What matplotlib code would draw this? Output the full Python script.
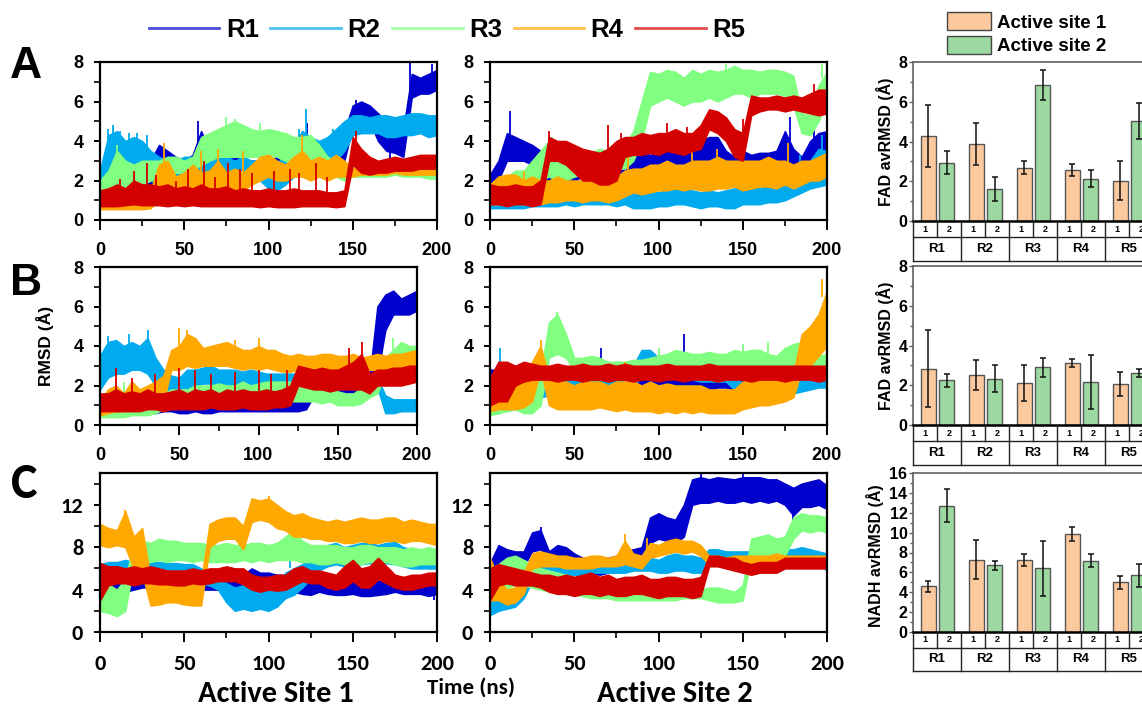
import numpy as np
import matplotlib.pyplot as plt
from matplotlib.lines import Line2D
from matplotlib.patches import Patch
from matplotlib import font_manager

plt.rcParams['font.family'] = ['Liberation Sans', 'DejaVu Sans']

# sampling times (ns) for the trajectory envelopes
t = list(range(0, 201, 5))

# ---- row A, active site 1: lower / upper envelope of each run
a1_r1_lo = [0.6,0.6,0.6,0.7,0.8,1.0,1.5,2.0,2.0,2.0,2.0,2.2,2.2,2.3,2.3,2.3,2.2,2.2,2.0,2.0,2.2,2.2,2.4,2.5,2.5,2.5,2.4,2.4,2.5,3.0,4.8,5.0,5.0,4.0,3.5,3.4,3.2,6.2,6.4,6.4,6.6]
a1_r1_hi = [1.2,1.5,1.8,2.0,2.2,2.6,3.0,3.8,3.5,3.2,3.0,3.3,4.5,3.5,3.3,3.2,3.2,3.0,3.0,3.0,3.0,3.2,3.4,3.5,4.5,3.8,3.5,3.8,4.0,4.5,5.8,6.0,5.8,5.4,5.0,5.0,4.6,7.4,7.2,7.4,7.6]
a1_r2_lo = [1.0,1.5,2.0,2.2,2.2,2.2,2.0,1.8,1.8,1.8,1.8,2.0,2.0,2.2,2.2,2.0,2.0,2.0,2.0,2.0,1.6,1.5,1.8,2.2,2.5,2.5,2.8,2.8,3.0,3.5,4.3,4.4,4.4,4.4,4.2,4.2,4.3,4.3,4.4,4.2,4.3]
a1_r2_hi = [2.5,4.3,4.5,4.0,4.2,4.0,3.5,3.2,3.0,3.0,3.2,3.2,3.3,3.3,3.2,3.2,3.0,3.2,3.0,3.0,2.8,2.8,3.5,3.8,4.5,4.2,4.0,4.2,4.6,5.0,5.3,5.3,5.2,5.3,5.3,5.2,5.3,5.4,5.4,5.3,5.3]
a1_r3_lo = [0.8,1.2,1.4,1.3,1.5,1.8,2.0,2.2,2.2,2.4,2.4,2.5,2.8,3.0,3.2,3.2,3.2,3.2,3.2,3.2,3.3,3.2,3.0,2.8,3.0,2.8,2.6,2.2,2.2,2.0,2.2,2.2,2.2,2.2,2.2,2.3,2.2,2.2,2.2,2.1,2.1]
a1_r3_hi = [2.0,2.5,3.5,3.0,2.8,3.0,3.0,3.0,3.2,3.2,3.0,3.2,4.2,4.4,4.6,4.8,5.0,4.8,4.6,4.5,4.6,4.5,4.4,4.2,4.2,4.3,3.8,3.2,3.0,2.8,2.7,2.6,2.5,2.5,2.5,2.5,2.5,2.5,2.5,2.4,2.4]
a1_r4_lo = [0.55,0.55,0.55,0.55,0.55,0.55,0.6,1.0,1.2,1.2,1.2,1.3,1.2,1.3,1.4,1.3,1.4,1.5,1.8,2.0,2.2,2.0,2.0,2.2,2.2,2.0,2.2,2.0,2.2,2.2,2.2,2.3,2.3,2.3,2.3,2.4,2.3,2.3,2.3,2.3,2.3]
a1_r4_hi = [0.9,1.0,1.0,1.0,1.0,1.2,1.5,2.8,3.0,2.2,2.4,2.8,2.4,2.5,3.0,2.4,2.6,2.4,2.8,3.2,3.3,3.0,2.8,3.2,3.5,3.0,3.2,3.0,3.3,3.0,2.6,2.7,2.6,2.6,2.6,2.6,2.6,2.6,2.6,2.6,2.6]
a1_r5_lo = [0.7,0.7,0.7,0.75,0.8,0.75,0.75,0.75,0.7,0.75,0.7,0.75,0.7,0.7,0.7,0.7,0.7,0.7,0.7,0.65,0.7,0.65,0.65,0.65,0.7,0.7,0.7,0.7,0.65,0.7,2.8,2.4,2.3,2.4,2.4,2.5,2.5,2.5,2.6,2.6,2.6]
a1_r5_hi = [1.5,1.6,1.8,1.6,2.0,1.8,1.8,1.7,1.8,1.6,1.7,1.6,1.8,1.6,1.6,1.7,1.5,1.6,1.5,1.5,1.6,1.5,1.5,1.6,1.5,1.5,1.5,1.4,1.4,1.5,4.2,3.6,3.2,3.0,3.1,3.2,3.1,3.2,3.3,3.3,3.3]
# short excursions: (run index, time, low, high)
a1_spikes = [(1,5,3.0,4.6),(1,8,3.0,4.8),(1,12,3.0,4.5),(1,17,3.0,4.4),(1,22,3.0,4.4),(1,28,2.8,4.3),
             (1,118,3.5,4.6),(1,122,3.5,5.6),(1,138,3.5,4.6),
             (0,58,3.0,5.0),(0,123,3.5,4.9),(0,152,5.5,6.1),(0,172,3.0,4.0),(0,184,6.5,8.0),(0,197,6.8,7.9),
             (2,10,2.5,3.8),(2,75,4.5,5.2),(2,80,4.5,5.1),(2,95,4.3,4.9),
             (3,38,2.5,3.9),(3,60,2.2,3.5),(3,70,2.5,3.6),(3,85,2.2,3.5),(3,120,3.0,4.3),
             (4,12,1.4,2.1),(4,20,1.5,2.5),(4,28,1.5,2.9),(4,33,1.5,2.3),(4,45,1.4,2.0),(4,52,1.5,2.6),
             (4,62,1.5,3.0),(4,68,1.5,2.2),(4,76,1.5,2.9),(4,83,1.4,2.6),(4,90,1.4,2.4),(4,103,1.4,2.5),
             (4,113,1.4,2.6),(4,118,1.4,2.4),(4,128,1.4,2.9),(4,135,1.3,2.2),(4,152,3.5,4.5)]

# ---- row A, active site 2
a2_r1_lo = [1.4,2.0,3.0,3.0,3.0,2.8,2.4,1.5,1.5,1.8,2.0,2.2,2.0,2.2,2.2,2.2,2.2,2.3,2.4,2.4,2.5,2.5,2.5,2.3,2.4,2.5,2.6,2.5,2.3,2.2,2.5,2.4,2.4,2.5,2.4,2.6,2.5,2.3,2.8,2.8,3.0]
a2_r1_hi = [2.3,3.0,4.4,4.2,4.0,3.8,3.5,2.5,2.5,2.8,3.0,3.2,3.2,3.4,3.5,3.2,3.2,3.2,3.4,3.3,3.4,3.6,3.8,3.4,3.5,4.0,4.2,4.2,3.5,3.2,3.5,3.3,3.4,3.4,3.5,4.5,3.6,3.2,4.0,4.4,4.5]
a2_r2_lo = [0.6,0.6,0.6,0.6,0.6,0.7,0.7,0.7,0.7,0.8,0.7,0.8,0.8,0.8,0.8,0.7,0.8,0.6,0.6,0.6,0.7,0.7,0.8,0.8,0.7,0.6,0.7,0.7,0.6,0.6,0.8,0.8,0.8,0.9,0.9,1.0,1.2,1.4,1.6,1.7,1.8]
a2_r2_hi = [1.2,1.0,1.1,1.0,1.0,1.2,1.3,1.4,1.5,1.6,1.5,1.6,1.7,1.8,1.6,1.6,1.8,1.5,1.6,1.5,1.4,1.6,1.7,1.8,1.5,1.4,1.5,1.4,1.5,1.6,1.8,1.7,1.6,1.8,1.8,2.0,2.2,2.4,3.0,3.6,3.5]
a2_r3_lo = [1.0,1.0,1.2,1.5,1.5,1.5,2.0,2.2,2.0,2.0,2.2,2.3,2.3,2.2,2.4,2.6,2.6,3.0,4.0,5.8,6.0,6.2,6.0,5.8,6.0,6.0,6.2,6.0,6.2,6.4,6.4,6.2,6.4,6.4,6.4,6.3,5.8,4.4,4.3,5.0,6.0]
a2_r3_hi = [1.8,2.0,2.2,2.5,2.5,3.0,3.5,4.0,3.5,3.2,3.2,3.5,3.4,3.6,3.5,3.8,3.8,4.5,6.0,7.5,7.4,7.6,7.5,7.2,7.6,7.4,7.6,7.5,7.6,7.8,7.6,7.6,7.5,7.6,7.6,7.5,7.3,5.4,5.3,6.8,7.5]
a2_r4_lo = [0.8,0.8,0.8,1.0,0.8,0.8,0.8,0.9,0.9,1.0,1.0,0.9,1.0,1.0,0.9,1.0,1.2,1.4,1.3,1.4,1.5,1.5,1.6,1.5,1.6,1.5,1.5,1.6,1.6,1.7,1.5,1.6,1.7,1.7,1.6,1.8,1.6,1.8,2.0,2.0,2.2]
a2_r4_hi = [1.8,2.2,2.3,2.3,2.0,2.2,2.0,2.0,2.2,2.0,2.0,2.0,2.2,2.0,2.0,2.2,2.5,2.6,2.6,2.8,2.8,3.0,2.8,2.8,3.0,3.0,3.0,3.2,3.0,3.0,3.0,3.0,3.0,3.2,3.0,3.0,2.8,3.0,3.0,3.2,3.4]
a2_r5_lo = [0.8,0.8,0.7,0.8,0.8,0.7,0.8,3.0,3.0,2.8,2.4,2.0,2.0,1.8,1.8,2.0,3.2,3.3,3.3,3.4,3.3,3.5,3.4,3.3,3.5,3.6,4.6,4.4,4.0,3.2,3.0,5.3,5.5,5.6,5.6,5.5,5.6,5.5,5.4,5.3,5.4]
a2_r5_hi = [1.8,1.7,1.7,1.8,1.7,1.7,2.0,4.2,4.0,4.0,3.8,3.6,3.5,3.4,3.6,4.0,4.2,4.2,4.4,4.3,4.4,4.4,4.6,4.4,4.4,4.8,5.6,5.5,5.2,4.6,4.4,6.3,6.2,6.2,6.3,6.2,6.3,6.2,6.4,6.6,6.6]
a2_spikes = [(0,12,4.0,5.5),(0,110,3.5,4.2),(0,128,4.0,4.6),(0,178,3.5,5.2),(0,192,4.0,4.6),
             (1,184,2.0,3.3),(1,197,3.0,4.3),
             (2,37,3.5,4.2),(2,140,7.4,7.9),(2,197,7.2,7.9),
             (3,20,1.8,2.5),(3,82,2.4,3.3),(3,120,2.8,3.5),(3,135,3.0,3.6),(3,177,2.8,3.9),
             (4,35,4.0,4.5),(4,70,3.4,4.8),(4,78,3.8,4.4),(4,105,4.3,4.9),(4,117,4.3,4.7),
             (4,150,4.2,5.1),(4,192,6.2,6.9)]

# ---- row B, active site 1
b1_r1_lo = [0.5,0.6,0.6,0.6,0.6,0.6,0.6,0.6,0.7,0.7,0.6,0.6,0.7,0.6,0.6,0.7,0.7,0.7,0.7,0.7,0.7,0.7,0.7,0.7,0.7,0.7,0.8,1.5,1.6,1.6,1.5,1.6,1.6,1.5,1.6,2.5,4.8,5.6,5.6,5.6,5.8]
b1_r1_hi = [1.2,1.3,1.5,1.6,1.6,1.5,1.6,1.6,1.6,1.6,1.5,1.6,1.6,1.5,1.6,1.7,2.0,2.0,1.8,1.6,1.6,1.6,1.6,1.6,1.5,1.3,1.4,2.2,2.4,2.4,2.4,2.4,2.6,2.4,2.4,6.0,6.6,6.8,6.4,6.6,6.8]
b1_r2_lo = [1.8,2.4,2.6,2.6,2.8,2.8,2.6,2.0,1.6,1.5,1.4,1.8,2.0,2.1,2.1,2.0,2.0,2.0,2.0,2.1,2.0,2.0,2.1,2.1,2.1,2.0,2.0,2.1,2.1,2.1,2.1,2.1,2.1,2.0,2.0,1.9,0.6,0.6,0.7,0.7,0.7]
b1_r2_hi = [3.5,4.2,4.3,4.0,4.2,4.0,4.4,3.4,2.8,2.5,2.4,2.8,2.8,2.9,3.0,2.8,2.8,2.8,2.7,2.8,2.7,2.6,2.6,2.6,2.6,2.6,2.6,2.6,2.6,2.6,2.6,2.6,2.6,2.5,2.5,2.4,1.5,1.3,1.3,1.3,1.3]
b1_r3_lo = [0.4,0.4,0.4,0.4,0.5,0.5,0.5,0.6,0.8,0.9,1.0,1.0,1.2,1.2,1.3,1.2,1.3,1.3,1.4,1.3,1.3,1.4,1.3,1.3,1.2,1.2,1.2,1.2,1.1,1.2,1.0,1.0,1.0,1.1,1.4,1.6,2.6,3.0,3.2,3.1,3.0]
b1_r3_hi = [0.8,0.8,0.9,1.2,1.6,1.4,1.0,1.2,1.6,1.8,1.8,1.8,2.0,2.0,2.0,2.1,2.0,2.0,2.2,2.0,2.1,2.2,2.2,2.2,2.2,1.9,1.9,1.9,2.0,2.0,1.7,1.6,1.6,1.9,2.4,2.4,3.4,3.8,4.2,4.0,4.0]
b1_r4_lo = [0.5,0.6,0.7,0.7,0.8,0.8,0.9,1.0,1.2,2.8,2.8,3.0,2.9,3.0,3.0,3.0,3.0,2.9,2.8,2.9,2.8,2.9,2.8,2.7,2.7,2.8,2.8,2.8,2.7,2.8,2.7,2.8,2.8,2.7,2.8,2.8,2.8,2.8,2.8,2.9,2.9]
b1_r4_hi = [1.2,1.8,2.0,1.6,2.2,1.8,2.0,2.2,2.5,3.8,4.0,4.6,4.4,3.9,4.0,4.1,4.2,4.0,3.8,3.8,4.0,3.8,3.8,3.6,3.5,3.6,3.5,3.5,3.6,3.6,3.5,3.5,3.6,3.4,3.5,3.6,3.5,3.6,3.6,3.7,3.8]
b1_r5_lo = [0.7,0.7,0.7,0.7,0.7,0.7,0.8,0.8,0.7,0.8,0.8,0.8,0.8,0.8,0.9,0.8,0.8,0.8,0.9,0.8,0.8,0.8,0.9,0.9,1.0,2.0,1.9,1.8,1.8,1.7,1.8,1.8,1.8,1.8,1.6,2.0,2.0,2.0,2.0,2.1,2.2]
b1_r5_hi = [1.6,1.6,1.8,1.6,1.7,1.6,1.8,1.6,1.6,1.7,1.8,1.6,1.8,1.7,1.8,1.6,1.8,1.7,1.8,1.7,1.7,1.8,1.7,1.8,2.0,3.0,2.9,2.8,2.9,2.8,2.8,3.0,3.2,3.6,2.6,2.8,2.8,2.9,2.9,3.0,3.0]
b1_spikes = [(1,5,4.0,4.5),(1,18,4.0,4.6),(1,30,4.2,4.8),
             (2,15,1.1,2.2),(2,185,3.8,4.4),
             (3,50,3.8,4.9),(3,55,4.4,4.8),(3,85,4.0,4.3),(3,100,3.9,4.4),
             (4,10,1.7,2.9),(4,20,1.6,2.4),(4,35,1.6,2.6),(4,50,1.7,2.9),(4,60,1.7,2.8),(4,70,1.7,2.6),
             (4,85,1.7,2.7),(4,100,1.7,2.8),(4,108,1.7,2.6),(4,118,1.7,2.8),(4,157,3.0,3.9),(4,165,3.4,4.2)]

# ---- row B, active site 2
b2_r1_lo = [1.0,1.5,1.6,1.8,1.8,1.8,1.9,1.9,1.9,1.8,1.9,1.9,2.0,2.0,2.0,2.0,1.9,1.8,1.9,1.9,1.8,1.9,1.9,2.0,1.9,1.8,1.8,1.9,1.9,1.8,1.8,1.8,1.8,1.8,1.8,1.8,1.8,1.8,1.9,2.0,2.0]
b2_r1_hi = [2.8,2.8,2.8,2.8,3.0,2.8,2.8,2.9,2.9,2.8,2.9,2.8,3.0,3.4,3.0,2.9,2.8,2.8,2.9,2.9,2.8,2.9,3.0,3.6,2.9,2.8,2.8,2.9,2.9,2.8,2.8,2.8,2.9,2.8,2.9,2.8,2.8,2.6,2.6,2.6,2.6]
b2_r2_lo = [0.6,0.6,0.8,0.9,1.0,1.2,1.4,1.5,1.5,1.5,1.6,1.6,1.6,1.6,1.6,1.6,1.6,1.8,2.6,2.8,2.4,2.4,2.4,2.4,2.3,2.2,2.2,2.2,2.2,1.8,1.3,1.2,1.2,1.4,1.5,1.5,1.6,1.7,1.8,1.9,1.9]
b2_r2_hi = [1.5,2.5,1.6,1.6,1.8,2.0,2.2,2.3,2.3,2.4,2.4,2.6,2.8,2.6,2.5,2.6,2.6,3.0,3.8,3.8,3.4,3.2,3.4,3.2,3.2,3.2,3.0,3.0,3.0,2.8,2.0,1.8,1.8,2.0,2.2,2.2,2.2,2.4,2.4,2.5,2.6]
b2_r3_lo = [0.5,0.6,0.7,0.8,0.6,0.6,1.0,3.4,3.6,3.4,2.8,2.7,2.8,2.7,2.6,2.6,2.6,2.6,2.7,2.7,2.8,2.9,3.0,2.9,3.0,2.9,2.9,2.9,2.9,3.0,2.9,2.9,2.9,2.8,2.9,3.0,3.0,3.0,2.8,2.7,2.7]
b2_r3_hi = [1.2,2.0,2.2,2.0,1.8,2.0,2.6,5.2,5.6,4.6,3.4,3.4,3.5,3.4,3.2,3.2,3.2,3.3,3.3,3.4,3.5,3.6,3.8,3.7,3.6,3.6,3.7,3.6,3.6,3.8,3.7,3.8,3.8,3.6,3.5,3.9,4.1,4.2,3.9,3.5,3.6]
b2_r4_lo = [0.7,0.8,0.8,0.8,0.9,1.2,2.8,1.0,0.8,0.8,0.8,0.8,0.8,0.9,0.8,0.7,0.8,0.7,0.7,0.7,0.6,0.7,0.6,0.7,0.6,0.7,0.6,0.6,0.6,0.6,0.8,0.9,1.0,1.0,1.1,1.2,1.4,2.8,3.0,3.5,4.0]
b2_r4_hi = [1.5,1.8,2.0,2.0,2.2,3.2,4.0,2.4,2.2,2.2,2.0,2.2,2.2,2.2,2.0,2.2,2.2,2.2,2.0,2.2,2.0,2.1,2.0,2.0,2.0,2.0,1.8,1.8,1.8,1.8,2.2,2.4,2.4,2.4,2.4,2.4,2.6,4.6,5.0,5.6,6.8]
b2_r5_lo = [1.0,1.2,1.2,2.0,2.2,2.3,2.3,2.3,2.2,2.3,2.3,2.2,2.3,2.3,2.2,2.3,2.3,2.2,2.3,2.3,2.2,2.3,2.3,2.2,2.3,2.3,2.3,2.2,2.3,2.3,2.3,2.2,2.3,2.3,2.3,2.2,2.3,2.3,2.3,2.2,2.3]
b2_r5_hi = [2.4,3.2,3.2,3.0,3.2,3.1,3.0,3.0,3.1,3.0,3.0,3.1,3.0,3.0,3.1,3.0,3.1,3.0,3.0,3.0,3.0,3.1,3.0,3.0,3.0,3.0,3.1,3.0,3.0,3.0,3.0,3.0,3.0,3.0,3.0,3.0,3.0,3.0,3.0,3.0,3.0]
b2_spikes = [(0,66,3.2,3.9),(0,115,3.4,4.6),(0,183,2.6,3.7),
             (1,6,2.4,3.9),
             (2,40,5.4,5.7),(2,100,3.5,3.9),(2,150,3.7,4.1),(2,165,3.6,4.2),
             (3,30,3.8,4.3),(3,80,2.2,3.2),(3,197,6.5,7.4)]

# ---- row C, active site 1
c1_r1_lo = [2.2,3.4,3.8,3.8,4.0,4.2,4.2,4.3,4.3,4.2,4.2,4.0,4.0,4.0,4.0,4.0,4.0,4.0,4.2,4.0,3.8,3.8,4.0,3.8,3.6,3.5,3.8,3.6,3.5,3.5,3.6,3.4,3.4,3.5,3.6,3.8,3.6,3.6,3.6,3.4,3.6]
c1_r1_hi = [5.0,6.0,5.6,5.4,5.4,5.6,5.6,5.5,5.4,5.4,5.3,5.2,5.2,5.4,5.2,5.4,5.6,5.4,6.0,5.6,5.6,5.4,5.4,5.4,5.2,5.0,5.2,5.2,5.0,5.0,5.2,4.8,4.8,4.8,5.0,5.0,4.8,4.8,4.8,5.0,5.0]
c1_r2_lo = [4.5,5.0,5.2,5.4,5.4,5.3,5.4,5.2,5.3,5.2,5.2,5.0,4.6,4.4,4.0,2.8,2.0,2.2,2.0,2.2,2.0,2.4,3.2,3.5,4.2,5.0,5.8,6.2,6.4,6.2,6.4,6.4,6.5,6.4,6.5,6.4,6.2,6.0,6.0,6.0,6.0]
c1_r2_hi = [6.4,6.6,6.6,6.8,6.6,6.6,6.7,6.6,6.5,6.5,6.4,6.4,6.0,5.6,5.2,4.6,4.2,4.4,4.0,4.2,4.0,4.4,5.6,6.0,6.4,7.0,7.6,8.2,8.4,8.0,8.2,8.4,8.4,8.2,8.4,8.5,8.0,7.8,7.8,7.6,7.6]
c1_r3_lo = [2.0,1.8,1.5,2.0,6.4,6.6,6.6,6.8,6.6,6.8,6.8,6.6,6.8,6.6,6.6,6.6,6.6,6.8,6.6,6.8,6.6,6.8,6.8,6.8,6.6,6.6,6.4,6.4,6.6,6.4,6.4,6.4,6.6,6.6,6.6,6.4,6.2,6.2,6.4,6.4,6.4]
c1_r3_hi = [5.5,4.5,4.0,5.0,8.4,8.6,8.4,8.8,8.6,8.6,8.4,8.4,8.4,8.2,8.2,8.4,8.2,8.2,8.4,8.4,8.2,8.4,9.0,9.6,8.6,8.2,8.2,8.2,8.2,8.0,8.0,8.2,8.2,8.0,8.0,8.0,7.8,8.0,7.8,8.0,7.8]
c1_r4_lo = [8.2,8.0,8.2,8.0,6.0,5.5,2.5,2.6,2.8,2.8,2.6,2.5,2.5,8.0,8.6,8.8,8.8,7.8,10.4,10.6,10.4,9.8,9.6,9.0,9.0,8.8,8.8,8.6,8.6,8.4,8.4,8.6,8.4,8.4,8.6,8.6,8.4,8.6,8.6,8.4,8.2]
c1_r4_hi = [10.2,9.8,9.6,11.4,9.0,9.8,5.0,4.8,4.8,4.8,4.6,4.5,4.8,10.2,10.6,10.8,10.8,10.0,12.6,12.4,12.6,12.0,11.4,11.0,11.2,10.8,10.6,10.4,10.6,10.4,10.6,10.8,10.6,10.6,10.8,10.8,10.4,10.6,10.4,10.2,10.2]
c1_r5_lo = [3.0,4.4,4.6,4.6,4.4,4.6,4.6,4.5,4.5,4.4,4.4,4.6,4.5,4.6,4.8,4.8,4.8,4.5,4.0,3.8,4.0,3.9,4.0,4.4,4.8,4.6,4.6,4.2,4.0,4.2,4.8,4.2,4.2,5.0,4.6,4.2,4.0,4.0,4.2,4.4,4.4]
c1_r5_hi = [6.5,6.2,6.2,6.0,6.2,6.0,6.2,6.0,5.8,5.8,5.8,6.0,5.8,6.0,6.0,6.2,6.0,6.0,5.4,5.2,5.2,5.4,5.4,6.0,6.2,5.8,5.8,5.6,5.4,6.2,6.8,6.0,6.2,7.0,6.2,5.4,5.2,5.4,5.4,5.6,5.6]
c1_spikes = [(0,198,3.0,3.6),(1,113,6.0,9.5),(3,15,10.5,11.5),(3,100,12.2,12.8)]

# ---- row C, active site 2
c2_r1_lo = [2.0,6.6,6.4,6.2,6.2,7.6,7.8,6.4,6.8,6.6,6.0,5.6,5.6,5.4,5.6,5.8,6.0,6.2,6.4,8.4,8.8,8.6,8.4,9.0,12.0,12.2,12.2,12.4,12.2,12.2,12.4,12.2,12.4,12.2,12.4,12.0,11.0,11.8,11.8,12.0,11.6]
c2_r1_hi = [6.5,8.2,7.8,7.6,7.6,9.4,9.6,7.6,8.2,8.0,7.4,7.0,7.0,6.8,7.0,7.2,7.6,7.8,8.0,10.8,11.2,10.8,10.6,12.0,14.4,14.6,14.4,14.6,14.5,14.4,14.6,14.6,14.6,14.4,14.4,14.0,13.6,14.0,14.2,14.4,13.8]
c2_r2_lo = [1.6,2.0,2.2,2.4,3.2,4.8,5.0,5.2,5.2,5.2,5.4,5.4,5.6,5.6,5.6,5.6,5.6,5.8,5.8,5.8,5.6,5.6,5.8,5.8,5.6,5.6,6.6,6.6,6.6,6.4,6.6,6.6,6.6,6.6,6.6,6.6,6.8,6.6,6.6,6.4,5.8]
c2_r2_hi = [3.4,3.2,3.4,4.0,5.6,6.2,6.4,6.4,6.4,6.4,6.6,6.6,6.6,6.8,6.8,6.8,6.8,7.0,7.0,7.0,6.8,7.2,7.4,7.2,7.2,7.0,7.8,7.8,7.6,7.6,7.6,7.6,7.8,7.8,7.6,7.8,7.8,8.0,7.8,7.6,7.4]
c2_r3_lo = [3.0,3.4,4.0,4.5,4.4,4.2,4.0,3.8,3.6,3.6,3.5,3.4,3.2,3.2,3.2,3.0,3.0,3.0,3.0,3.0,3.0,3.0,3.0,3.2,3.2,3.2,3.0,2.8,2.8,2.8,3.0,7.0,7.2,7.0,7.0,7.2,8.8,9.6,9.4,9.6,9.4]
c2_r3_hi = [6.0,6.4,7.0,7.2,6.8,6.4,6.0,5.8,5.6,5.4,5.2,5.0,4.8,4.6,4.4,4.2,4.2,4.2,4.0,4.2,4.0,4.2,4.0,4.2,4.2,4.0,4.2,4.2,4.0,3.8,4.4,8.8,9.0,9.2,8.8,9.0,10.8,11.2,11.0,11.0,10.8]
c2_r4_lo = [3.0,3.0,2.6,2.8,3.6,6.0,6.2,6.2,6.2,6.0,6.0,6.0,6.0,6.2,6.2,6.2,6.4,6.2,6.0,7.0,7.2,7.4,7.6,7.4,7.6,7.2,6.4,6.4,6.4,6.4,6.4,6.4,6.6,6.6,6.6,6.6,6.6,6.6,6.6,6.6,6.6]
c2_r4_hi = [7.0,5.0,4.0,4.2,5.6,7.4,7.6,7.4,7.2,7.2,7.0,7.0,7.2,7.2,7.0,7.2,8.6,7.4,7.2,8.4,8.2,8.6,8.8,8.6,8.6,8.2,7.2,7.2,7.0,7.2,7.2,7.2,7.2,7.2,7.4,7.2,7.2,7.2,7.2,7.2,7.2]
c2_r5_lo = [3.0,4.4,4.6,4.4,4.4,4.4,4.2,3.8,3.6,3.6,3.4,3.6,3.6,3.4,3.6,3.4,3.4,3.6,3.6,3.4,3.2,3.4,3.4,3.4,3.2,3.4,6.2,6.2,6.0,5.8,5.6,5.4,5.6,5.6,5.6,6.0,6.0,6.0,6.0,6.0,6.0]
c2_r5_hi = [6.0,6.4,6.2,6.0,5.8,5.6,5.4,5.4,5.2,5.4,5.2,5.4,5.6,5.2,5.4,5.0,5.2,5.2,5.4,5.0,5.0,5.2,5.2,5.0,5.0,5.2,7.2,7.2,7.0,7.0,6.6,6.4,6.6,6.6,6.6,7.0,7.0,7.0,7.0,7.0,7.0]
c2_spikes = [(0,30,9.4,9.9),(0,125,14.4,14.9),(0,150,14.4,14.9),(0,180,10.5,11.2),
             (3,80,8.4,9.2),(3,93,7.0,8.9)]

# ---- averaged RMSD bars (mean, error) per run
runs = ['R1', 'R2', 'R3', 'R4', 'R5']
fad_a_site1 = [4.26, 3.88, 2.67, 2.58, 2.03]
fad_a_site1_err = [1.56, 1.07, 0.33, 0.30, 0.97]
fad_a_site2 = [2.94, 1.61, 6.83, 2.13, 5.03]
fad_a_site2_err = [0.60, 0.60, 0.76, 0.43, 0.90]
fad_b_site1 = [2.84, 2.52, 2.10, 3.12, 2.08]
fad_b_site1_err = [1.93, 0.77, 0.90, 0.22, 0.60]
fad_b_site2 = [2.25, 2.32, 2.90, 2.15, 2.63]
fad_b_site2_err = [0.34, 0.68, 0.49, 1.35, 0.19]
nadh_site1 = [4.60, 7.28, 7.28, 9.87, 5.00]
nadh_site1_err = [0.54, 1.97, 0.59, 0.71, 0.64]
nadh_site2 = [12.72, 6.71, 6.41, 7.18, 5.70]
nadh_site2_err = [1.62, 0.46, 2.78, 0.66, 1.15]

run_colors = ['#0000CD', '#00AAEE', '#80FF80', '#FFA800', '#D40000']
site1_color = '#FBC99D'
site2_color = '#9BD9A0'

W, H = 1142, 713
fig = plt.figure(figsize=(W / 100, H / 100), dpi=100)


def px_axes(left, top, right, bottom):
    # axes placed by pixel edges of the 1142x713 canvas
    return fig.add_axes([left / W, 1 - bottom / H, (right - left) / W, (bottom - top) / H])


def pick_narrow():
    names = {f.name for f in font_manager.fontManager.ttflist}
    for n in ['Carlito', 'Liberation Sans Narrow', 'Lato']:
        if n in names:
            return n
    return 'Liberation Sans'


NARROW = pick_narrow()


def draw_traces(ax, bands, spikes):
    # each run is the band between its lower and upper envelope, later runs on top
    for i, ((lo, hi), c) in enumerate(zip(bands, run_colors)):
        z = 2 + i
        ax.fill_between(t, lo, hi, facecolor=c, edgecolor=c, lw=1.1, zorder=z)
        pts = [s for s in spikes if s[0] == i]
        if pts:
            ax.vlines([s[1] for s in pts], [s[2] for s in pts], [s[3] for s in pts],
                      color=c, lw=1.3, zorder=z)


def style_trace_axes(ax, ymax, yticks, yminor, family, size, pad):
    ax.set_xlim(0, 200)
    ax.set_ylim(0, ymax)
    ax.set_xticks([0, 50, 100, 150, 200])
    ax.set_xticks(range(0, 201, 25), minor=True)
    ax.set_yticks(yticks)
    ax.set_yticks(yminor, minor=True)
    ax.tick_params(axis='x', which='major', length=7, width=1.4, pad=pad)
    ax.tick_params(axis='x', which='minor', length=4, width=1.2)
    ax.tick_params(axis='y', which='major', length=4, width=1.4, pad=8)
    ax.tick_params(axis='y', which='minor', length=4, width=1.2)
    for s in ax.spines.values():
        s.set_linewidth(1.6)
        s.set_zorder(10)
    for lbl in ax.get_xticklabels() + ax.get_yticklabels():
        lbl.set_family(family)
        lbl.set_fontweight('bold')
        lbl.set_fontsize(size)


def draw_bars(ax, s1, e1, s2, e2, ymax):
    x = np.arange(len(runs))
    ek = dict(elinewidth=1.1, capthick=1.1, ecolor='#111111')
    ax.bar(x + 0.32, s1, 0.31, yerr=e1, color=site1_color, edgecolor='#555555',
           lw=1, capsize=2.5, error_kw=ek)
    ax.bar(x + 0.70, s2, 0.31, yerr=e2, color=site2_color, edgecolor='#555555',
           lw=1, capsize=2.5, error_kw=ek)
    ax.set_xlim(0, 5)
    ax.set_ylim(0, ymax)
    ax.set_xticks([])
    ax.set_yticks(range(0, ymax + 1, 2))
    ax.set_yticks(range(1, ymax, 2), minor=True)
    ax.tick_params(axis='y', which='major', length=3, width=1, pad=1, color='#606060')
    ax.tick_params(axis='y', which='minor', length=2.5, width=1, color='#606060')
    for side in ['left', 'top', 'right']:
        ax.spines[side].set_color('#606060')
        ax.spines[side].set_linewidth(1.2)
    ax.spines['bottom'].set_linewidth(1.8)
    for lbl in ax.get_yticklabels():
        lbl.set_fontweight('bold')
        lbl.set_fontsize(11.5)


def draw_category_table(ax, split, total):
    # two-level x labels: site number on top, run name underneath
    ax.set_xlim(0, 5)
    ax.set_ylim(total, 0)
    ax.axis('off')
    kw = dict(color='#222222', lw=1, clip_on=False)
    ax.plot([0, 5], [split, split], **kw)
    ax.plot([0, 5], [total, total], **kw)
    ax.plot([0, 0], [0, total], **kw)
    for i in range(5):
        ax.plot([i + 1, i + 1], [0, total], **kw)
        ax.plot([i + 0.5, i + 0.5], [0, split], **kw)
        ax.text(i + 0.25, split / 2, '1', ha='center', va='center', fontsize=6.5, weight='bold')
        ax.text(i + 0.75, split / 2, '2', ha='center', va='center', fontsize=6.5, weight='bold')
        ax.text(i + 0.5, (split + total) / 2, runs[i], ha='center', va='center',
                fontsize=9.5, weight='bold')


def main():
    a1 = [(a1_r1_lo, a1_r1_hi), (a1_r2_lo, a1_r2_hi), (a1_r3_lo, a1_r3_hi), (a1_r4_lo, a1_r4_hi), (a1_r5_lo, a1_r5_hi)]
    a2 = [(a2_r1_lo, a2_r1_hi), (a2_r2_lo, a2_r2_hi), (a2_r3_lo, a2_r3_hi), (a2_r4_lo, a2_r4_hi), (a2_r5_lo, a2_r5_hi)]
    b1 = [(b1_r1_lo, b1_r1_hi), (b1_r2_lo, b1_r2_hi), (b1_r3_lo, b1_r3_hi), (b1_r4_lo, b1_r4_hi), (b1_r5_lo, b1_r5_hi)]
    b2 = [(b2_r1_lo, b2_r1_hi), (b2_r2_lo, b2_r2_hi), (b2_r3_lo, b2_r3_hi), (b2_r4_lo, b2_r4_hi), (b2_r5_lo, b2_r5_hi)]
    c1 = [(c1_r1_lo, c1_r1_hi), (c1_r2_lo, c1_r2_hi), (c1_r3_lo, c1_r3_hi), (c1_r4_lo, c1_r4_hi), (c1_r5_lo, c1_r5_hi)]
    c2 = [(c2_r1_lo, c2_r1_hi), (c2_r2_lo, c2_r2_hi), (c2_r3_lo, c2_r3_hi), (c2_r4_lo, c2_r4_hi), (c2_r5_lo, c2_r5_hi)]

    ab_ticks = (8, range(0, 9, 2), range(1, 8, 2))
    c_ticks = (15, range(0, 13, 4), range(2, 15, 4))

    # trajectory panels
    ax = px_axes(100, 62, 437, 220)
    draw_traces(ax, a1, a1_spikes)
    style_trace_axes(ax, *ab_ticks, 'Liberation Sans', 13, 9)
    ax = px_axes(490, 62, 827, 220)
    draw_traces(ax, a2, a2_spikes)
    style_trace_axes(ax, *ab_ticks, 'Liberation Sans', 13, 9)

    ax = px_axes(100, 267, 417, 425)
    draw_traces(ax, b1, b1_spikes)
    style_trace_axes(ax, *ab_ticks, 'Liberation Sans', 13, 9)
    ax = px_axes(490, 267, 827, 425)
    draw_traces(ax, b2, b2_spikes)
    style_trace_axes(ax, *ab_ticks, 'Liberation Sans', 13, 9)

    ax = px_axes(100, 473, 437, 632)
    draw_traces(ax, c1, c1_spikes)
    style_trace_axes(ax, *c_ticks, NARROW, 16, 9)
    ax = px_axes(490, 473, 827, 632)
    draw_traces(ax, c2, c2_spikes)
    style_trace_axes(ax, *c_ticks, NARROW, 16, 9)

    # average RMSD bar panels (the right side runs past the canvas edge)
    ax = px_axes(913, 62, 1153, 221)
    draw_bars(ax, fad_a_site1, fad_a_site1_err, fad_a_site2, fad_a_site2_err, 8)
    draw_category_table(px_axes(913, 221, 1153, 261), 16, 40)
    ax = px_axes(913, 266, 1153, 425)
    draw_bars(ax, fad_b_site1, fad_b_site1_err, fad_b_site2, fad_b_site2_err, 8)
    draw_category_table(px_axes(913, 425, 1153, 465), 16, 40)
    ax = px_axes(913, 473, 1153, 632)
    draw_bars(ax, nadh_site1, nadh_site1_err, nadh_site2, nadh_site2_err, 16)
    draw_category_table(px_axes(913, 632, 1153, 671), 16, 39)

    fig.text(885 / W, 1 - 142 / H, 'FAD avRMSD (Å)', rotation=90, ha='center', va='center',
             fontsize=11.5, weight='bold')
    fig.text(885 / W, 1 - 346 / H, 'FAD avRMSD (Å)', rotation=90, ha='center', va='center',
             fontsize=11.5, weight='bold')
    fig.text(875 / W, 1 - 556 / H, 'NADH avRMSD (Å)', rotation=90, ha='center', va='center',
             fontsize=11.5, weight='bold')

    # legends
    run_handles = [Line2D([], [], color=c, lw=2, alpha=0.7) for c in run_colors]
    fig.legend(run_handles, runs, loc='center', bbox_to_anchor=(447 / W, 1 - 30 / H), ncol=5,
               frameon=False, prop=dict(weight='bold', size=18.5), handlelength=2.75,
               handletextpad=0.25, columnspacing=0.45, borderpad=0)
    site_handles = [Patch(facecolor=site1_color, edgecolor='#444444', lw=1),
                    Patch(facecolor=site2_color, edgecolor='#444444', lw=1)]
    fig.legend(site_handles, ['Active site 1', 'Active site 2'], loc='upper left',
               bbox_to_anchor=(938 / W, 1 - 3 / H), frameon=False,
               prop=dict(weight='bold', size=13.5), handlelength=2.3, handleheight=1.1,
               handletextpad=0.35, labelspacing=0.22, borderpad=0)

    # panel letters and shared labels
    fig.text(26 / W, 1 - 67 / H, 'A', fontsize=32, weight='bold', ha='center', va='center')
    fig.text(26 / W, 1 - 283 / H, 'B', fontsize=32, weight='bold', ha='center', va='center')
    fig.text(24 / W, 1 - 484 / H, 'C', fontsize=36, weight='bold', ha='center', va='center',
             family=NARROW)
    fig.text(45 / W, 1 - 346 / H, 'RMSD (Å)', rotation=90, ha='center', va='center',
             fontsize=12.5, weight='bold')
    fig.text(276 / W, 1 - 694 / H, 'Active Site 1', ha='center', va='center', fontsize=22,
             weight='bold', family=NARROW)
    fig.text(471 / W, 1 - 688 / H, 'Time (ns)', ha='center', va='center', fontsize=16.5,
             weight='bold', family=NARROW)
    fig.text(675 / W, 1 - 694 / H, 'Active Site 2', ha='center', va='center', fontsize=22,
             weight='bold', family=NARROW)

    fig.savefig('out.png', dpi=100)


if __name__ == "__main__":
    main()
